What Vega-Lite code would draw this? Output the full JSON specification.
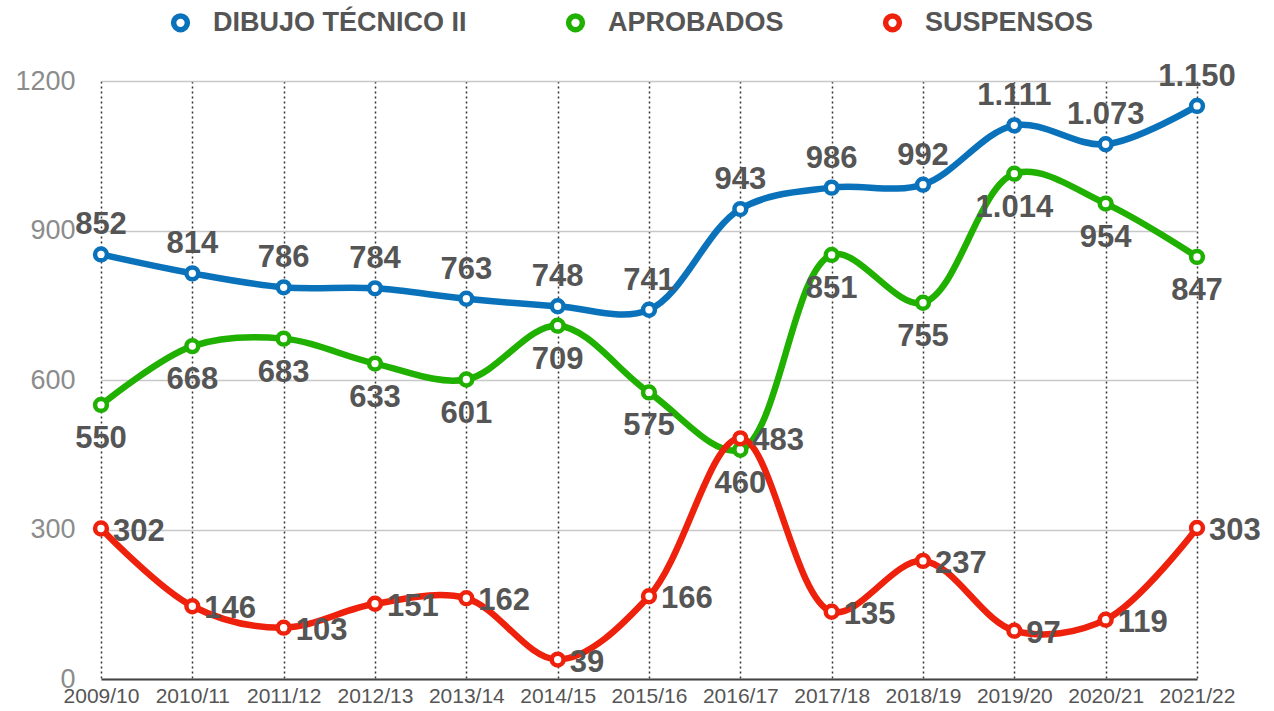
{
  "$schema": "https://vega.github.io/schema/vega-lite/v6.json",
  "width": 1096,
  "height": 598,
  "autosize": {"type": "none"},
  "padding": {"left": 101, "top": 81, "right": 77, "bottom": 32},
  "background": "white",
  "config": {
    "locale": {"number": {"decimal": ",", "thousands": ".", "grouping": [3], "currency": ["", " €"]}},
    "view": {"stroke": null},
    "font": "Liberation Sans"
  },
  "data": {
    "values": [
      {"curso": "2009/10", "serie": "DIBUJO TÉCNICO II", "valor": 852},
      {"curso": "2010/11", "serie": "DIBUJO TÉCNICO II", "valor": 814},
      {"curso": "2011/12", "serie": "DIBUJO TÉCNICO II", "valor": 786},
      {"curso": "2012/13", "serie": "DIBUJO TÉCNICO II", "valor": 784},
      {"curso": "2013/14", "serie": "DIBUJO TÉCNICO II", "valor": 763},
      {"curso": "2014/15", "serie": "DIBUJO TÉCNICO II", "valor": 748},
      {"curso": "2015/16", "serie": "DIBUJO TÉCNICO II", "valor": 741},
      {"curso": "2016/17", "serie": "DIBUJO TÉCNICO II", "valor": 943},
      {"curso": "2017/18", "serie": "DIBUJO TÉCNICO II", "valor": 986},
      {"curso": "2018/19", "serie": "DIBUJO TÉCNICO II", "valor": 992},
      {"curso": "2019/20", "serie": "DIBUJO TÉCNICO II", "valor": 1111},
      {"curso": "2020/21", "serie": "DIBUJO TÉCNICO II", "valor": 1073},
      {"curso": "2021/22", "serie": "DIBUJO TÉCNICO II", "valor": 1150},
      {"curso": "2009/10", "serie": "APROBADOS", "valor": 550},
      {"curso": "2010/11", "serie": "APROBADOS", "valor": 668},
      {"curso": "2011/12", "serie": "APROBADOS", "valor": 683},
      {"curso": "2012/13", "serie": "APROBADOS", "valor": 633},
      {"curso": "2013/14", "serie": "APROBADOS", "valor": 601},
      {"curso": "2014/15", "serie": "APROBADOS", "valor": 709},
      {"curso": "2015/16", "serie": "APROBADOS", "valor": 575},
      {"curso": "2016/17", "serie": "APROBADOS", "valor": 460},
      {"curso": "2017/18", "serie": "APROBADOS", "valor": 851},
      {"curso": "2018/19", "serie": "APROBADOS", "valor": 755},
      {"curso": "2019/20", "serie": "APROBADOS", "valor": 1014},
      {"curso": "2020/21", "serie": "APROBADOS", "valor": 954},
      {"curso": "2021/22", "serie": "APROBADOS", "valor": 847},
      {"curso": "2009/10", "serie": "SUSPENSOS", "valor": 302},
      {"curso": "2010/11", "serie": "SUSPENSOS", "valor": 146},
      {"curso": "2011/12", "serie": "SUSPENSOS", "valor": 103},
      {"curso": "2012/13", "serie": "SUSPENSOS", "valor": 151},
      {"curso": "2013/14", "serie": "SUSPENSOS", "valor": 162},
      {"curso": "2014/15", "serie": "SUSPENSOS", "valor": 39},
      {"curso": "2015/16", "serie": "SUSPENSOS", "valor": 166},
      {"curso": "2016/17", "serie": "SUSPENSOS", "valor": 483},
      {"curso": "2017/18", "serie": "SUSPENSOS", "valor": 135},
      {"curso": "2018/19", "serie": "SUSPENSOS", "valor": 237},
      {"curso": "2019/20", "serie": "SUSPENSOS", "valor": 97},
      {"curso": "2020/21", "serie": "SUSPENSOS", "valor": 119},
      {"curso": "2021/22", "serie": "SUSPENSOS", "valor": 303}
    ]
  },
  "encoding": {
    "x": {
      "field": "curso", "type": "ordinal",
      "scale": {"type": "point", "padding": 0},
      "axis": {
        "title": null, "labelAngle": 0, "ticks": false,
        "labelFont": "Liberation Sans", "labelFontSize": 21, "labelColor": "#555555",
        "labelPadding": 6, "labelOverlap": false,
        "domain": true, "domainColor": "#444444", "domainWidth": 2,
        "grid": true, "gridColor": "#333333", "gridDash": [2, 3], "gridWidth": 1.5, "gridOpacity": 1
      }
    },
    "y": {
      "field": "valor", "type": "quantitative",
      "scale": {"domain": [0, 1200], "nice": false},
      "axis": {
        "title": null, "values": [0, 300, 600, 900, 1200], "format": "d",
        "ticks": false, "domain": false,
        "labelFont": "Liberation Sans", "labelFontSize": 27, "labelColor": "#8c8c8c",
        "labelPadding": 26,
        "grid": true, "gridColor": "#c8c8c8", "gridWidth": 1.5, "gridOpacity": 1
      }
    }
  },
  "layer": [
    {
      "mark": {"type": "line", "interpolate": "catmull-rom", "strokeWidth": 6.5},
      "encoding": {
        "color": {
          "field": "serie", "type": "nominal",
          "scale": {"domain": ["DIBUJO TÉCNICO II", "APROBADOS", "SUSPENSOS"], "range": ["#0a72ba", "#1fb000", "#ee220c"]},
          "legend": {
            "title": null, "orient": "none", "direction": "horizontal",
            "legendX": 66, "legendY": -72, "padding": 0,
            "symbolType": "circle", "symbolSize": 190, "symbolStrokeWidth": 5.5, "symbolFillColor": "white",
            "labelFont": "Liberation Sans", "labelFontSize": 27, "labelFontWeight": "bold", "labelColor": "#555555",
            "labelOffset": 19, "columnPadding": 90, "labelLimit": 400,
            "encode": {"symbols": {"update": {"fill": {"value": "white"}, "strokeWidth": {"value": 5.5}, "opacity": {"value": 1}}}}
          }
        }
      }
    },
    {
      "mark": {"type": "point", "shape": "circle", "filled": false, "fill": "white", "fillOpacity": 1, "opacity": 1, "size": 140, "strokeWidth": 4.5},
      "encoding": {
        "color": {"field": "serie", "type": "nominal", "legend": null}
      }
    },
    {
      "transform": [{"filter": "datum.serie === 'DIBUJO TÉCNICO II'"}],
      "mark": {"type": "text", "align": "center", "baseline": "alphabetic", "dy": -20, "fontSize": 31, "fontWeight": "bold", "color": "#555555", "font": "Liberation Sans"},
      "encoding": {"text": {"field": "valor", "type": "quantitative", "format": ","}}
    },
    {
      "transform": [{"filter": "datum.serie === 'APROBADOS'"}],
      "mark": {"type": "text", "align": "center", "baseline": "alphabetic", "dy": 43, "fontSize": 31, "fontWeight": "bold", "color": "#555555", "font": "Liberation Sans"},
      "encoding": {"text": {"field": "valor", "type": "quantitative", "format": ","}}
    },
    {
      "transform": [{"filter": "datum.serie === 'SUSPENSOS'"}],
      "mark": {"type": "text", "align": "left", "baseline": "alphabetic", "dx": 12, "dy": 12, "fontSize": 31, "fontWeight": "bold", "color": "#555555", "font": "Liberation Sans"},
      "encoding": {"text": {"field": "valor", "type": "quantitative", "format": ","}}
    }
  ]
}
